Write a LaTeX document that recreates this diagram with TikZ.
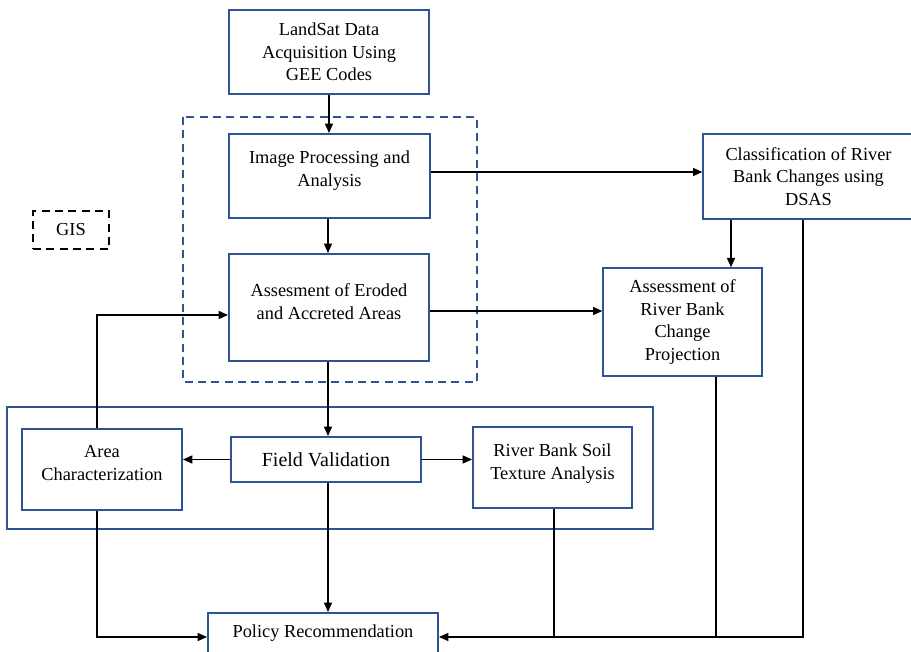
\documentclass[tikz,border=0pt]{standalone}
\usepackage{fontspec}
\setmainfont{Liberation Serif}
\usetikzlibrary{arrows.meta}

\definecolor{boxblue}{RGB}{47,84,150}

\tikzset{
  box/.style={draw=boxblue, line width=1.5pt, align=center, inner sep=0pt},
  thinbox/.style={draw=boxblue, line width=1pt, align=center, inner sep=0pt},
  arr/.style={line width=1.1pt, -{Triangle[length=7pt,width=6pt]}},
  ln/.style={line width=1.1pt},
}

\begin{document}
\begin{tikzpicture}[x=0.75pt, y=-0.75pt, font=\fontsize{13.75}{16.9}\selectfont]
		\clip (0,0) rectangle (911,652);

		% process boxes
		\node[box, minimum width=150pt, minimum height=63pt] (land) at (329,52) {LandSat Data\\Acquisition Using\\GEE Codes};
		\node[box, minimum width=150.75pt, minimum height=63pt] (imgproc) at (329.5,176) {Image Processing and\\Analysis\\[-5.6pt]};
		\node[box, minimum width=150pt, minimum height=80.25pt] (erosion) at (329,307.5) {Assesment of Eroded\\and Accreted Areas\\[-7.9pt]};
		\node[thinbox, minimum width=158.25pt, minimum height=63.75pt] (dsas) at (808.5,176.5) {Classification of River\\Bank Changes using\\DSAS};
		\node[thinbox, minimum width=119.25pt, minimum height=81pt] (proj) at (682.5,322) {Assessment of\\River Bank\\Change\\Projection};
		\node[draw, dashed, dash pattern=on 6pt off 4pt, line width=1.5pt, minimum width=57pt, minimum height=28.5pt] (gis) at (71,230) {GIS};

		% field work
		\node[box, minimum width=120pt, minimum height=60.75pt] (area) at (102,469.5) {Area\\Characterization\\[-7pt]};
		\node[box, minimum width=142.5pt, minimum height=33.75pt] (field) at (326,459.5) {\fontsize{15}{17}\selectfont Field Validation};
		\node[box, minimum width=119.25pt, minimum height=60.75pt] (soil) at (552.5,467.5) {River Bank Soil\\Texture Analysis\\[-7.9pt]};
		\node[box, minimum width=172.5pt, minimum height=30.75pt] (policy) at (323,633.5) {Policy Recommendation};

		% group frames
		\draw[boxblue, line width=1.5pt, dashed, dash pattern=on 6pt off 4pt] (183,117) rectangle (477,382);
		\draw[boxblue, line width=1.5pt] (7,407) rectangle (653,529);

		% connectors
		\draw[arr] (land.south) -- (imgproc.north -| land.south);
		\draw[arr] (imgproc.south -| 328,0) -- (erosion.north -| 328,0);
		\draw[arr] (erosion.south -| 328,0) -- (field.north -| 328,0);
		\draw[arr] (field.south -| 328,0) -- (policy.north -| 328,0);
		\draw[arr] (imgproc.east |- 0,172) -- (dsas.west |- 0,172);
		\draw[arr] (erosion.east |- 0,311) -- (proj.west |- 0,311);
		\draw[arr] (dsas.south -| 731,0) -- (proj.north -| 731,0);
		\draw[arr] (area.north -| 97,0) |- (erosion.west |- 0,315);
		\draw[arr] (field.west) -- (area.east |- field.west);
		\draw[arr] (field.east) -- (soil.west |- field.east);
		\draw[arr] (area.south -| 97,0) |- (policy.west |- 0,637);

		\coordinate (soilend) at (554,637);
		\coordinate (projend) at (716,637);
		\draw[ln] (soil.south -| soilend) -- (soilend);
		\draw[ln] (proj.south -| projend) -- (projend);
		\draw[arr] (dsas.south -| 803,0) |- (policy.east |- 0,637);
	\end{tikzpicture}
\end{document}
